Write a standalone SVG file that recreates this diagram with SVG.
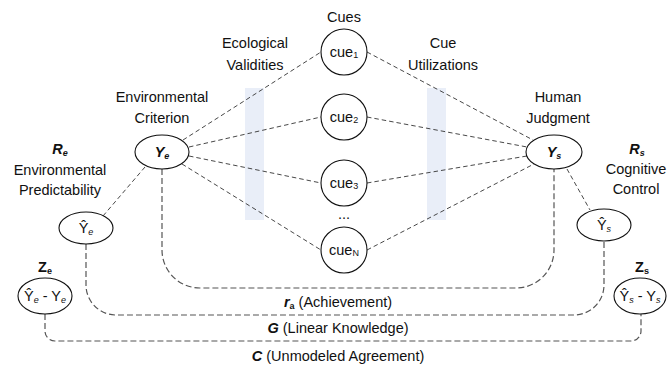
<svg xmlns="http://www.w3.org/2000/svg" width="667" height="366" viewBox="0 0 667 366">
<style>
text{font-family:"Liberation Sans",Arial,sans-serif;font-size:14.5px;fill:#111;text-anchor:middle}
.sub{font-size:9px}
.bi{font-weight:bold;font-style:italic}
.b{font-weight:bold}
.i{font-style:italic}
.node{fill:#fff;stroke:#111;stroke-width:1.1}
.dl{fill:none;stroke:#333;stroke-width:0.9;stroke-dasharray:4.5 3}
.bl{fill:none;stroke:#555;stroke-width:1.2;stroke-dasharray:6 3}
.band{fill:#E9EEF8}
</style>
<rect class="band" x="245" y="88" width="19" height="132"/>
<rect class="band" x="427" y="88" width="19" height="132"/>
<g id="connectors">
<line class="dl" x1="183" y1="140" x2="321" y2="52"/>
<line class="dl" x1="189" y1="147" x2="321" y2="117"/>
<line class="dl" x1="189" y1="156" x2="321" y2="183"/>
<line class="dl" x1="182" y1="164" x2="321" y2="250"/>
<line class="dl" x1="367" y1="52" x2="533" y2="140"/>
<line class="dl" x1="367" y1="117" x2="527" y2="147"/>
<line class="dl" x1="367" y1="183" x2="527" y2="156"/>
<line class="dl" x1="367" y1="250" x2="534" y2="164"/>
<line class="dl" x1="145" y1="167" x2="103" y2="216"/>
<line class="dl" x1="567" y1="169" x2="590" y2="210"/>
<path class="bl" d="M162,169 V250 A38,38 0 0 0 200,288 H516 A38,38 0 0 0 554,250 V169"/>
<path class="bl" d="M86,244 V285 A30,30 0 0 0 116,315 H574 A30,30 0 0 0 604,285 V241"/>
<path class="bl" d="M45,314 V331 A10,10 0 0 0 55,341 H631 A10,10 0 0 0 641,331 V314"/>
</g>
<g id="labels">
<text x="344" y="22">Cues</text>
<text x="255" y="48">Ecological</text>
<text x="255" y="70">Validities</text>
<text x="443" y="48">Cue</text>
<text x="443" y="70">Utilizations</text>
<text x="162" y="102">Environmental</text>
<text x="162" y="123">Criterion</text>
<text x="558" y="102">Human</text>
<text x="558" y="123">Judgment</text>
<text x="60" y="154"><tspan class="bi">R</tspan><tspan class="sub bi" dy="2">e</tspan></text>
<text x="60" y="175">Environmental</text>
<text x="60" y="195">Predictability</text>
<text x="637" y="154"><tspan class="bi">R</tspan><tspan class="sub bi" dy="2">s</tspan></text>
<text x="636" y="174">Cognitive</text>
<text x="636" y="194">Control</text>
<text x="45" y="272"><tspan class="b">Z</tspan><tspan class="sub b" dy="2">e</tspan></text>
<text x="642" y="272"><tspan class="b">Z</tspan><tspan class="sub b" dy="2">s</tspan></text>
<text x="338" y="307"><tspan class="bi">r</tspan><tspan class="sub b" dy="2">a</tspan><tspan dy="-2"> (Achievement)</tspan></text>
<text x="338" y="333"><tspan class="bi">G</tspan> (Linear Knowledge)</text>
<text x="338" y="361"><tspan class="bi">C</tspan> (Unmodeled Agreement)</text>
<text x="344" y="219">...</text>
</g>
<g id="cue1"><circle class="node" cx="344" cy="52" r="23"/><text x="344" y="57">cue<tspan class="sub" dy="1">1</tspan></text></g>
<g id="cue2"><circle class="node" cx="344" cy="117" r="23"/><text x="344" y="122">cue<tspan class="sub" dy="1">2</tspan></text></g>
<g id="cue3"><circle class="node" cx="344" cy="183" r="23"/><text x="344" y="188">cue<tspan class="sub" dy="1">3</tspan></text></g>
<g id="cueN"><circle class="node" cx="344" cy="250" r="23"/><text x="344" y="255">cue<tspan class="sub" dy="1">N</tspan></text></g>
<g id="Ye"><ellipse class="node" cx="162" cy="152" rx="27" ry="17"/><text x="162" y="157"><tspan class="bi">Y</tspan><tspan class="sub bi" dy="2">e</tspan></text></g>
<g id="Ys"><ellipse class="node" cx="554" cy="152" rx="28" ry="17"/><text x="554" y="157"><tspan class="bi">Y</tspan><tspan class="sub bi" dy="2">s</tspan></text></g>
<g id="Yhat_e"><ellipse class="node" cx="86" cy="228" rx="27" ry="16"/><text x="86" y="233"><tspan>Ŷ</tspan><tspan class="sub i" dy="2">e</tspan></text></g>
<g id="Yhat_s"><ellipse class="node" cx="604" cy="225" rx="27" ry="16"/><text x="604" y="230"><tspan>Ŷ</tspan><tspan class="sub i" dy="2">s</tspan></text></g>
<g id="Ze"><ellipse class="node" cx="45" cy="296" rx="27" ry="18"/><text x="45" y="301"><tspan>Ŷ</tspan><tspan class="sub i" dy="2">e</tspan><tspan dy="-2"> - Y</tspan><tspan class="sub i" dy="2">e</tspan></text></g>
<g id="Zs"><ellipse class="node" cx="640" cy="296" rx="26" ry="18"/><text x="640" y="301"><tspan>Ŷ</tspan><tspan class="sub i" dy="2">s</tspan><tspan dy="-2"> - Y</tspan><tspan class="sub i" dy="2">s</tspan></text></g>
</svg>
